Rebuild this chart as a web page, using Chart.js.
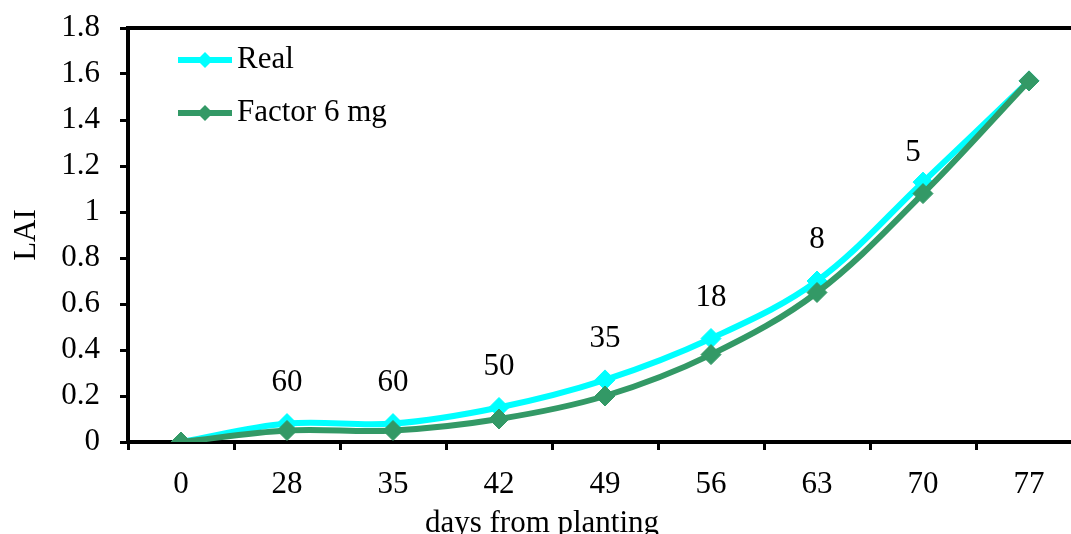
<!DOCTYPE html>
<html>
<head>
<meta charset="utf-8">
<script src="https://cdn.jsdelivr.net/npm/chart.js@4.4.1/dist/chart.umd.min.js"></script>
<style>
  html, body { margin: 0; padding: 0; background: #fff; overflow: hidden; }
  #wrap { position: absolute; left: 0; top: 0; width: 1093px; height: 534px; }
</style>
</head>
<body>
<div id="wrap"><canvas id="c"></canvas></div>
<script>
// Leaf area index over the growing season
const days = ['0', '28', '35', '42', '49', '56', '63', '70', '77'];
const realLAI = [0, 0.08, 0.08, 0.15, 0.27, 0.45, 0.70, 1.13, 1.57];
const factorLAI = [0, 0.05, 0.05, 0.10, 0.20, 0.38, 0.65, 1.08, 1.57];
const pointNotes = [null, '60', '60', '50', '35', '18', '8', '5', null];
const seriesNames = ['Real', 'Factor 6 mg'];
const xTitle = 'days from planting';
const yTitle = 'LAI';

const FONT = '"Liberation Serif", "Times New Roman", serif';
const FS = 31;
const CYAN = '#00FFFF';
const GREEN = '#339966';

const framePlugin = {
  id: 'frame',
  afterDraw(chart, args, opts) {
    const { ctx, chartArea: a } = chart;
    ctx.save();
    // top and right frame
    ctx.strokeStyle = '#000';
    ctx.lineWidth = 4;
    ctx.beginPath();
    ctx.moveTo(a.left - 2, a.top);
    ctx.lineTo(a.right, a.top);
    ctx.lineTo(a.right, a.bottom);
    ctx.stroke();

    // notes above the Real series
    const meta = chart.getDatasetMeta(0);
    const shifts = opts.noteShift || {};
    ctx.fillStyle = '#000';
    ctx.font = FS + 'px ' + FONT;
    ctx.textAlign = 'center';
    ctx.textBaseline = 'middle';
    pointNotes.forEach((t, i) => {
      if (!t) return;
      const p = meta.data[i];
      const s = shifts[i] || [0, 0];
      ctx.fillText(t, p.x + s[0], p.y - 41 + s[1]);
    });

    // legend inside the plot
    const colors = [CYAN, GREEN];
    seriesNames.forEach((name, i) => {
      const y = 60 + i * 53;
      ctx.strokeStyle = colors[i];
      ctx.lineWidth = 6;
      ctx.beginPath();
      ctx.moveTo(178, y);
      ctx.lineTo(232, y);
      ctx.stroke();
      ctx.fillStyle = colors[i];
      ctx.beginPath();
      ctx.moveTo(205 - 8, y);
      ctx.lineTo(205, y - 8);
      ctx.lineTo(205 + 8, y);
      ctx.lineTo(205, y + 8);
      ctx.closePath();
      ctx.fill();
      ctx.fillStyle = '#000';
      ctx.textAlign = 'left';
      ctx.fillText(name, 237, y);
    });

    // x axis title
    ctx.textAlign = 'center';
    ctx.textBaseline = 'alphabetic';
    ctx.fillText(xTitle, 542, 532);
    ctx.restore();
  }
};

new Chart(document.getElementById('c'), {
  type: 'line',
  data: {
    labels: days,
    datasets: [
      {
        label: seriesNames[0],
        data: realLAI,
        borderColor: CYAN,
        backgroundColor: CYAN,
        borderWidth: 6,
        pointStyle: 'rectRot',
        pointRadius: 10,
        pointBorderWidth: 1,
        tension: 0.35,
        order: 2
      },
      {
        label: seriesNames[1],
        data: factorLAI,
        borderColor: GREEN,
        backgroundColor: GREEN,
        borderWidth: 6,
        pointStyle: 'rectRot',
        pointRadius: 10,
        pointBorderWidth: 1,
        tension: 0.35,
        order: 1
      }
    ]
  },
  options: {
    responsive: true,
    maintainAspectRatio: false,
    animation: false,
    layout: { padding: { top: 28, right: 8, left: 0, bottom: 0 } },
    plugins: {
      legend: { display: false },
      tooltip: { enabled: false },
      frame: { noteShift: { 7: [-10, 12] } }
    },
    scales: {
      x: {
        type: 'category',
        offset: true,
        grid: {
          offset: true,
          drawOnChartArea: false,
          drawTicks: true,
          tickLength: 8,
          tickWidth: 3,
          tickColor: '#000'
        },
        border: { display: true, color: '#000', width: 4 },
        ticks: {
          color: '#000',
          font: { family: FONT, size: FS },
          padding: 16,
          maxRotation: 0
        },
        afterFit(s) {
          s.height = 92;
          s.paddingLeft = 0;
          s.paddingRight = 0;
        }
      },
      y: {
        min: 0,
        max: 1.8,
        ticks: {
          stepSize: 0.2,
          color: '#000',
          font: { family: FONT, size: FS },
          padding: 20,
          callback: v => String(Number(v.toFixed(1)))
        },
        grid: {
          drawOnChartArea: false,
          drawTicks: true,
          tickLength: 8,
          tickWidth: 3,
          tickColor: '#000'
        },
        border: { display: true, color: '#000', width: 4 },
        title: {
          display: true,
          text: yTitle,
          color: '#000',
          font: { family: FONT, size: FS },
          padding: { top: 8, bottom: 0 }
        },
        afterFit(s) {
          s.width = 128;
          s.paddingTop = 0;
          s.paddingBottom = 0;
        }
      }
    }
  },
  plugins: [framePlugin]
});
</script>
</body>
</html>
